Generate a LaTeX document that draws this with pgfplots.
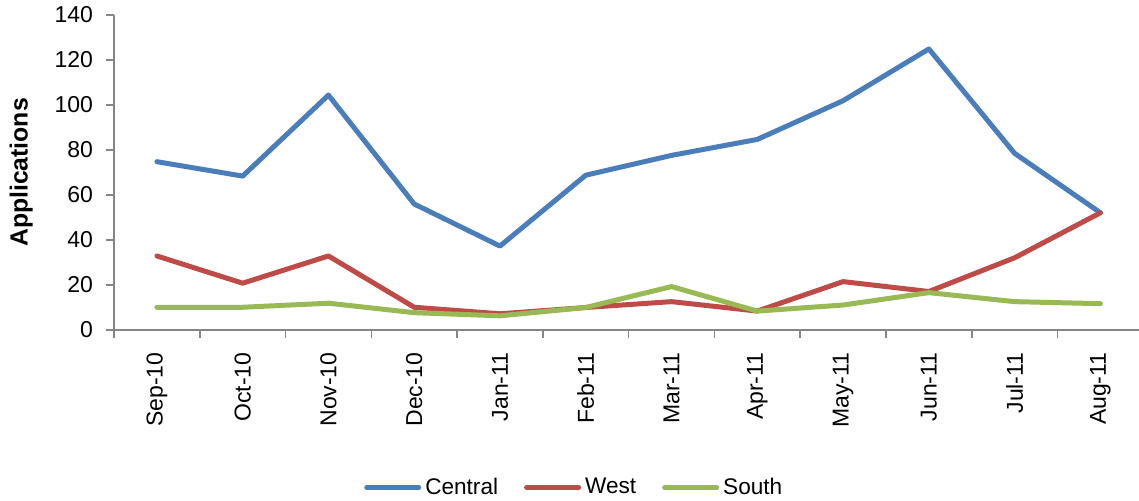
\documentclass[border=0pt]{standalone}
\usepackage{pgfplots}
\pgfplotsset{compat=1.18}
\usepackage{fontspec}
\setmainfont{Liberation Sans}
\definecolor{cblue}{HTML}{4A7EBB}
\definecolor{cred}{HTML}{BE4B48}
\definecolor{cgreen}{HTML}{98B954}
\definecolor{axgray}{HTML}{868686}
\begin{document}
\begin{tikzpicture}[x=1pt,y=1pt]
\begin{axis}[
  at={(57pt,85.5pt)}, anchor=south west,
  scale only axis, width=512.5pt, height=157.5pt,
  xmin=-0.5, xmax=11.45, ymin=0, ymax=140,
  axis x line=bottom, axis y line=left,
  axis line style={-, axgray, line width=0.8pt},
  ytick={0,20,...,140},
  xtick={0,...,11},
  xticklabels={Sep-10,Oct-10,Nov-10,Dec-10,Jan-11,Feb-11,Mar-11,Apr-11,May-11,Jun-11,Jul-11,Aug-11},
  minor xtick={-0.5,0.5,...,10.5},
  tick align=outside,
  major tick length=4pt, minor tick length=4pt,
  major x tick style={draw=none},
  every tick/.style={axgray, line width=0.8pt},
  minor tick style={axgray, line width=0.8pt},
  tick label style={font=\fontsize{11.5}{13}\selectfont},
  /pgf/number format/assume math mode=true,
  xticklabel style={rotate=90, anchor=east, xshift=-3.7pt},
  yticklabel style={xshift=-3pt},
  ylabel={\textbf{Applications}},
  every axis y label/.style={at={(ticklabel cs:0.5)}, rotate=90, anchor=south, yshift=4pt, font=\fontsize{12.4}{14}\selectfont},
  legend columns=3,
  legend style={at={(0.45,-0.5)}, anchor=center, draw=none, font=\fontsize{11.3}{13}\selectfont,
    /tikz/every even column/.append style={column sep=11pt}},
  legend image code/.code={\draw[#1, line cap=round] (0pt,0pt) -- (26pt,0pt);},
  clip=false,
]
\addplot[cblue, line width=2.5pt, line join=round, line cap=round] coordinates {
(0,74.8) (1,68.4) (2,104.4) (3,56) (4,37.3) (5,68.8) (6,77.6) (7,84.7) (8,101.9) (9,124.9) (10,78.5) (11,52.1)};
\addlegendentry{Central}
\addplot[cred, line width=2.5pt, line join=round, line cap=round] coordinates {
(0,32.9) (1,20.8) (2,32.9) (3,10.1) (4,7.2) (5,10) (6,12.6) (7,8.4) (8,21.5) (9,17.1) (10,32.1) (11,52.1)};
\addlegendentry{West}
\addplot[cgreen, line width=2.5pt, line join=round, line cap=round] coordinates {
(0,10.1) (1,10.1) (2,11.9) (3,7.7) (4,6.3) (5,10) (6,19.3) (7,8.4) (8,11.1) (9,16.6) (10,12.6) (11,11.7)};
\addlegendentry{South}
\end{axis}
\pgfresetboundingbox
\path (0,0) rectangle (569.5pt,250.5pt);
\end{tikzpicture}
\end{document}
